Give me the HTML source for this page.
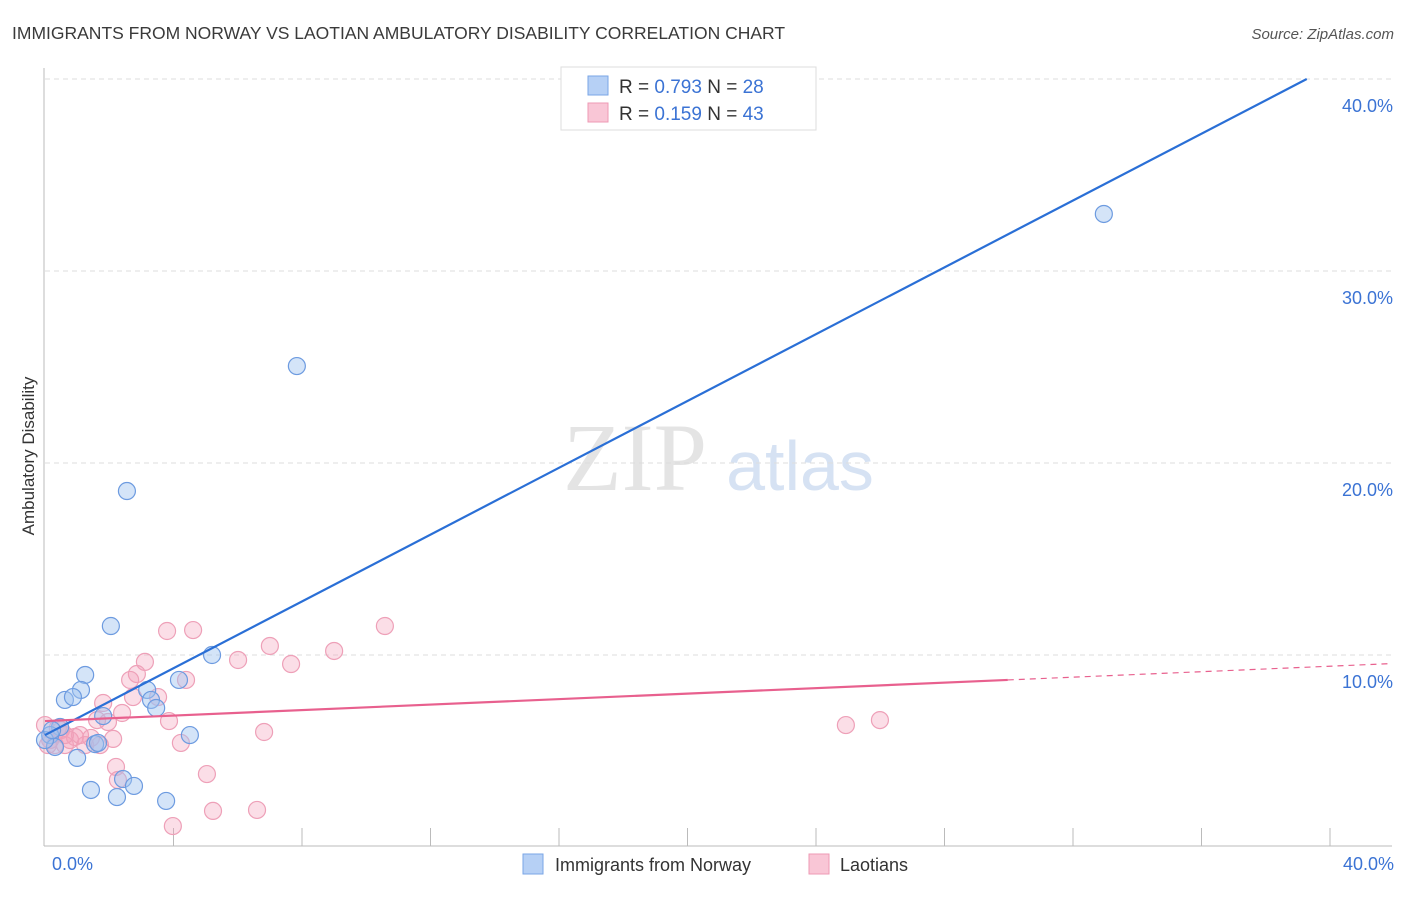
<!DOCTYPE html>
<html><head><meta charset="utf-8"><style>
body{margin:0;background:#fff;font-family:"Liberation Sans",sans-serif;}
</style></head><body>
<svg width="1406" height="892" xmlns="http://www.w3.org/2000/svg" font-family="Liberation Sans, sans-serif">
<text x="12" y="39" font-size="17.5" fill="#3a3a3a">IMMIGRANTS FROM NORWAY VS LAOTIAN AMBULATORY DISABILITY CORRELATION CHART</text>
<text x="1394" y="39" font-size="15" fill="#555" font-style="italic" text-anchor="end">Source: ZipAtlas.com</text>
<text x="34" y="456" font-size="17" fill="#333" text-anchor="middle" transform="rotate(-90 34 456)">Ambulatory Disability</text>
<g><text x="635" y="490" font-size="96" fill="#e4e4e4" font-family="Liberation Serif, serif" text-anchor="middle">ZIP</text><text x="800" y="490" font-size="70" fill="#d6e2f3" text-anchor="middle">atlas</text></g>
<g id="grid"></g><g id="axes"></g><g id="marks"></g><g id="trend"></g>
<g>
<rect x="561" y="67" width="255" height="63" fill="#fff" stroke="#ddd"/>
<rect x="588" y="76" width="20" height="19" fill="#b6d0f5" stroke="#7aa6e6"/>
<rect x="588" y="103" width="20" height="19" fill="#f9c6d6" stroke="#ee9ab4"/>
<text x="619" y="93" font-size="19" fill="#333">R = <tspan fill="#3b73d4">0.793</tspan>   N = <tspan fill="#3b73d4">28</tspan></text>
<text x="619" y="120" font-size="19" fill="#333">R =  <tspan fill="#3b73d4">0.159</tspan>   N = <tspan fill="#3b73d4">43</tspan></text>
</g>
<g>
<rect x="523" y="854" width="20" height="20" fill="#b6d0f5" stroke="#7aa6e6"/>
<text x="555" y="871" font-size="18" fill="#333">Immigrants from Norway</text>
<rect x="809" y="854" width="20" height="20" fill="#f9c6d6" stroke="#ee9ab4"/>
<text x="840" y="871" font-size="18" fill="#333">Laotians</text>
</g>
</svg>
<script>
const yTicks=[10,20,30,40];
const yTickLabels=["10.0%","20.0%","30.0%","40.0%"];
const xTickLabels=["0.0%","40.0%"];
const norwayX=[32.96,7.84,2.55,2.05,5.20,1.25,1.12,0.62,0.87,3.18,4.17,3.30,3.46,1.81,4.51,0.47,0.16,0.31,1.56,1.65,1.00,2.43,2.77,1.43,2.24,3.77,0,0.22];
const norwayY=[32.97,25.05,18.54,11.51,10.0,8.96,8.18,7.66,7.81,8.18,8.70,7.66,7.24,6.82,5.83,6.25,5.83,5.21,5.36,5.42,4.64,3.54,3.18,2.97,2.60,2.40,5.57,6.09];
const laoX=[3.80,4.61,10.58,7.00,9.00,6.01,7.66,3.11,2.86,2.65,3.52,4.39,2.74,1.81,2.40,1.62,3.86,2.12,1.43,0.50,0.93,0.62,1.25,0.31,4.23,6.82,24.93,25.99,2.21,5.04,2.27,5.23,6.60,3.98,0,0.16,0.78,1.09,1.71,1.96,0.40,0.62,0.09];
const laoY=[11.25,11.30,11.51,10.47,10.21,9.74,9.53,9.64,9.01,8.70,7.81,8.70,7.81,7.50,6.98,6.61,6.56,5.63,5.68,6.09,5.73,5.31,5.31,5.31,5.42,5.99,6.35,6.61,4.17,3.80,3.49,1.88,1.93,1.09,6.35,5.57,5.57,5.83,5.31,6.51,6.20,5.83,5.31];
const norwayTrend=[5.83,0.870];
const laoTrend=[6.56,0.0714];
const laoSolidEnd=29.97, laoDashEnd=41.9;
const NS="http://www.w3.org/2000/svg";
const X=v=>45+v/40*1285, Y=v=>847-v/10*192;
function mk(t,a,p){const e=document.createElementNS(NS,t);for(const k in a)e.setAttribute(k,a[k]);document.getElementById(p).appendChild(e);return e;}
yTicks.forEach((t,i)=>{
 const g=mk('line',{x1:45,x2:1392,y1:Y(t),y2:Y(t),stroke:'#ddd','stroke-dasharray':'5,4'},'grid');
 
 
 const l=mk('text',{x:1393,y:Y(t)+33,'font-size':18,fill:'#3b73d4','text-anchor':'end'},'grid');
 l.textContent=yTickLabels[i];
 
 
});
const ax=mk('line',{x1:44,x2:44,y1:68,y2:846,stroke:'#bbb'},'axes');


const bx=mk('line',{x1:44,x2:1392,y1:846,y2:846,stroke:'#bbb'},'axes');


for(let i=1;i<=10;i++){const t=mk('line',{x1:X(i*4),x2:X(i*4),y1:828,y2:846,stroke:'#bbb'},'axes');
 
 }
[[0,52,'start'],[40,1394,'end']].forEach((d,i)=>{const t=mk('text',{x:d[1],y:870,'font-size':18,fill:'#3b73d4','text-anchor':d[2]},'axes');t.textContent=xTickLabels[i];
 
 });
laoX.forEach((x,i)=>{const c=mk('circle',{cx:X(x),cy:Y(laoY[i]),r:8.5,fill:'rgba(244,160,187,0.35)',stroke:'#eea0b8','stroke-width':1.2},'marks');
 
 });
norwayX.forEach((x,i)=>{const c=mk('circle',{cx:X(x),cy:Y(norwayY[i]),r:8.5,fill:'rgba(160,195,240,0.45)',stroke:'#6d9be0','stroke-width':1.2},'marks');
 
 });
const bEnd=(40-norwayTrend[0])/norwayTrend[1];
const bl=mk('line',{x1:X(0),y1:Y(norwayTrend[0]),x2:X(bEnd),y2:Y(40),stroke:'#2a6fd6','stroke-width':2.2},'trend');


const pl=mk('line',{x1:X(0),y1:Y(laoTrend[0]),x2:X(laoSolidEnd),y2:Y(laoTrend[0]+laoTrend[1]*laoSolidEnd),stroke:'#e8608e','stroke-width':2.2},'trend');


const pd=mk('line',{x1:X(laoSolidEnd),y1:Y(laoTrend[0]+laoTrend[1]*laoSolidEnd),x2:X(laoDashEnd),y2:Y(laoTrend[0]+laoTrend[1]*laoDashEnd),stroke:'#e8608e','stroke-width':1.2,'stroke-dasharray':'6,5'},'trend');


</script>
</body></html>
